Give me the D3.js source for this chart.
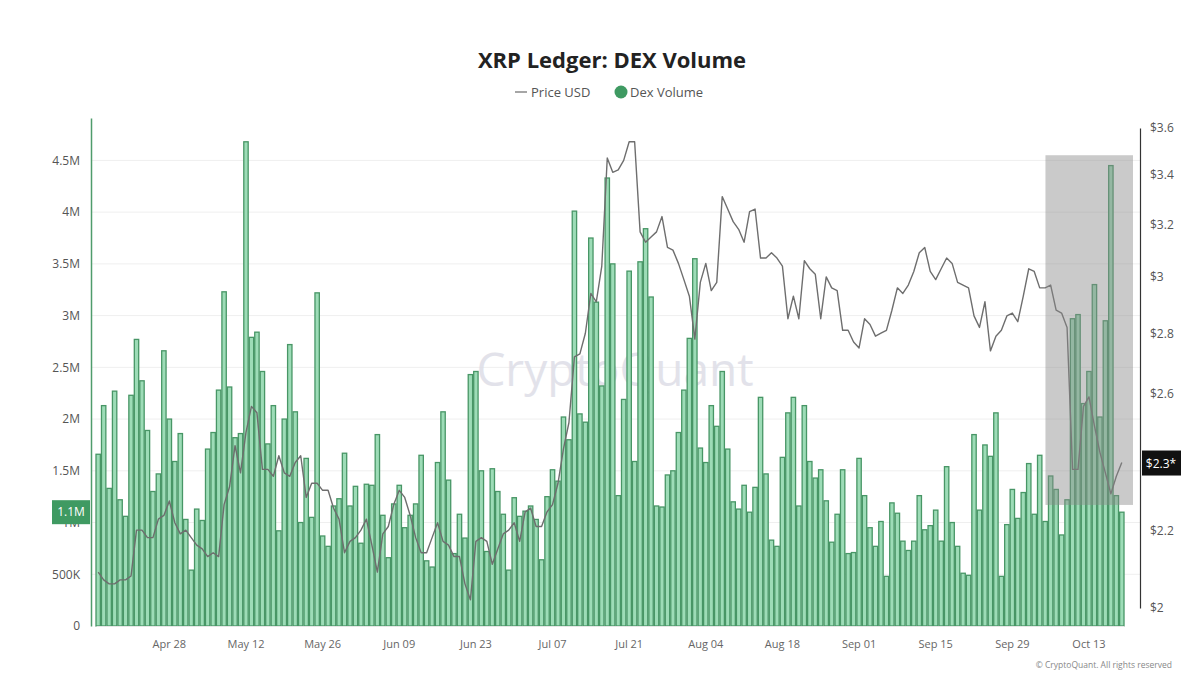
<!DOCTYPE html>
<html>
<head>
<meta charset="utf-8">
<script src="https://cdn.jsdelivr.net/npm/d3@7"></script>
<style>
  body { margin: 0; background: #fff; font-family: "Open Sans", "Noto Sans", sans-serif; }
</style>
</head>
<body>
<div id="graphic"></div>
<script>
// daily DEX volume (millions), Apr 15 -> Oct 19
const volume = [
  1.66, 2.13, 1.33, 2.27, 1.22, 1.06, 2.23, 2.77, 2.37, 1.89,
  1.30, 1.47, 2.66, 2.00, 1.59, 1.86, 1.03, 0.54, 1.13, 1.02,
  1.71, 1.87, 2.28, 3.23, 2.31, 1.82, 1.86, 4.68, 2.79, 2.84,
  2.46, 1.76, 2.13, 0.92, 2.00, 2.72, 2.07, 1.00, 1.62, 1.05,
  3.22, 0.87, 0.77, 1.16, 1.23, 1.67, 1.16, 1.35, 0.80, 1.37,
  1.36, 1.85, 1.07, 0.66, 1.18, 1.36, 0.95, 1.07, 1.18, 1.65,
  0.63, 0.57, 1.58, 2.07, 1.41, 0.70, 1.08, 0.85, 2.43, 2.46,
  1.50, 0.72, 1.52, 1.30, 1.08, 0.54, 1.24, 1.06, 1.11, 1.16,
  1.03, 0.64, 1.25, 1.51, 1.40, 2.02, 1.80, 4.01, 2.05, 1.97,
  3.75, 3.13, 2.32, 4.33, 3.50, 1.26, 2.19, 3.43, 1.59, 3.52,
  3.84, 3.18, 1.16, 1.15, 1.46, 1.50, 1.87, 2.28, 2.78, 3.55,
  1.72, 1.58, 2.13, 1.93, 2.46, 1.71, 1.20, 1.13, 1.36, 1.10,
  1.34, 2.21, 1.47, 0.83, 0.77, 1.63, 2.06, 2.21, 1.16, 2.13,
  1.59, 1.43, 1.51, 1.21, 0.81, 1.08, 1.51, 0.70, 0.71, 1.62,
  1.26, 0.95, 0.77, 1.01, 0.48, 1.19, 1.09, 0.82, 0.73, 0.82,
  1.26, 0.93, 0.97, 1.12, 0.82, 1.54, 1.00, 0.77, 0.51, 0.49,
  1.85, 1.12, 1.75, 1.64, 2.06, 0.48, 0.98, 1.32, 1.04, 1.29,
  1.57, 1.08, 1.65, 1.01, 1.45, 1.32, 0.88, 1.22, 2.97, 3.01,
  2.15, 2.46, 3.30, 2.02, 2.95, 4.45, 1.26, 1.10
];

// XRP price USD, same days
const price = [
  2.09, 2.07, 2.06, 2.06, 2.07, 2.07, 2.08, 2.20, 2.20, 2.18,
  2.18, 2.23, 2.24, 2.28, 2.22, 2.19, 2.20, 2.18, 2.16, 2.15,
  2.13, 2.14, 2.13, 2.27, 2.32, 2.44, 2.36, 2.48, 2.56, 2.54,
  2.37, 2.37, 2.35, 2.41, 2.36, 2.35, 2.39, 2.41, 2.29, 2.33,
  2.33, 2.31, 2.31, 2.26, 2.23, 2.14, 2.17, 2.18, 2.20, 2.23,
  2.16, 2.09, 2.19, 2.21, 2.27, 2.31, 2.29, 2.24, 2.18, 2.14,
  2.14, 2.18, 2.22, 2.17, 2.16, 2.13, 2.13, 2.06, 2.02, 2.17,
  2.18, 2.17, 2.11, 2.15, 2.19, 2.20, 2.22, 2.17, 2.25, 2.26,
  2.21, 2.21, 2.25, 2.27, 2.33, 2.43, 2.51, 2.72, 2.73, 2.80,
  2.94, 2.91, 3.04, 3.47, 3.41, 3.42, 3.46, 3.54, 3.54, 3.17,
  3.13, 3.15, 3.17, 3.23, 3.11, 3.10, 3.05, 2.99, 2.93, 2.78,
  2.98, 3.05, 2.95, 2.98, 3.31, 3.26, 3.21, 3.18, 3.13, 3.25,
  3.26, 3.07, 3.07, 3.09, 3.07, 3.04, 2.85, 2.93, 2.85, 3.06,
  3.03, 3.01, 2.85, 3.00, 2.96, 2.95, 2.81, 2.81, 2.77, 2.75,
  2.85, 2.83, 2.79, 2.80, 2.81, 2.88, 2.96, 2.94, 2.97, 3.02,
  3.09, 3.11, 3.02, 2.99, 3.03, 3.07, 3.05, 2.98, 2.97, 2.96,
  2.86, 2.82, 2.91, 2.74, 2.79, 2.81, 2.86, 2.87, 2.84, 2.93,
  3.03, 3.02, 2.96, 2.96, 2.97, 2.88, 2.87, 2.82, 2.37, 2.37,
  2.56, 2.59, 2.50, 2.42, 2.36, 2.30, 2.35, 2.39
];

const tickDays = ["2025-04-28", "2025-05-12", "2025-05-26", "2025-06-09", "2025-06-23",
  "2025-07-07", "2025-07-21", "2025-08-04", "2025-08-18", "2025-09-01",
  "2025-09-15", "2025-09-29", "2025-10-13"];
const volTicks = [0, 0.5, 1, 1.5, 2, 2.5, 3, 3.5, 4, 4.5];
const priceTicks = [2, 2.2, 2.6, 2.8, 3, 3.2, 3.4, 3.6];
const highlight = ["2025-10-06", "2025-10-19"]; // shaded window
const lastVolLabel = "1.1M";
const lastPriceLabel = "$2.3*";

const parseDay = d3.timeParse("%Y-%m-%d");
const dates = d3.timeDay.range(parseDay("2025-04-15"), parseDay("2025-10-20"));
const data = dates.map((d, i) => ({ date: d, vol: volume[i], price: price[i] }));

let margin = { top: 118, right: 60, bottom: 68, left: 91 },
    width = 1200 - margin.left - margin.right,
    height = 694 - margin.top - margin.bottom;

const root = d3.select("#graphic")
    .append("svg")
    .attr("width", 1200)
    .attr("height", 694);

// title + legend
root.append("text")
    .attr("x", 612).attr("y", 68)
    .attr("text-anchor", "middle")
    .style("font-size", "22px").style("font-weight", "700").style("fill", "#222")
    .text("XRP Ledger: DEX Volume");

const legend = root.append("g").attr("transform", "translate(0,92)");
legend.append("line").attr("x1", 515).attr("x2", 527).attr("y1", 0).attr("y2", 0)
    .attr("stroke", "#888").attr("stroke-width", 1.5);
legend.append("text").attr("x", 531).attr("y", 5)
    .style("font-size", "13px").style("fill", "#555").text("Price USD");
legend.append("circle").attr("cx", 621).attr("cy", 0).attr("r", 6.5).attr("fill", "#3f9a62");
legend.append("text").attr("x", 630).attr("y", 5)
    .style("font-size", "13px").style("fill", "#555").text("Dex Volume");

const svg = root.append("g")
    .attr("transform", `translate(${margin.left},${margin.top})`);

const x = d3.scaleBand()
    .domain(dates)
    .range([5, 1033])
    .paddingInner(0.2);

const y = d3.scaleLinear()
    .domain([0, 4.91])
    .range([height, 0]);

const y2 = d3.scaleLog()
    .domain([2, 3.6])
    .range([height - 18, 10]);

// gridlines
svg.append("g")
    .selectAll("line")
    .data(volTicks.slice(1))
    .join("line")
    .attr("x1", 0).attr("x2", width)
    .attr("y1", d => y(d)).attr("y2", d => y(d))
    .attr("stroke", "#efefef");

// watermark
svg.append("text")
    .attr("x", 524).attr("y", 268)
    .attr("text-anchor", "middle")
    .style("font-size", "46px").style("font-weight", "500")
    .style("fill", "#dcdce6").style("opacity", 0.8)
    .text("CryptoQuant");

// bars
svg.selectAll("rect.bar")
    .data(data)
    .join("rect")
    .attr("class", "bar")
    .attr("x", d => x(d.date))
    .attr("y", d => y(d.vol))
    .attr("width", x.bandwidth())
    .attr("height", d => height - y(d.vol))
    .attr("fill", "#9ddcb7")
    .attr("stroke", "#489666")
    .attr("stroke-width", 1.3);

// price line
const line = d3.line()
    .x(d => x(d.date) + x.bandwidth() / 2)
    .y(d => y2(d.price));
svg.append("path")
    .datum(data)
    .attr("d", line)
    .attr("fill", "none")
    .attr("stroke", "#6e6e6e")
    .attr("stroke-width", 1.4)
    .attr("stroke-linejoin", "round");

// shaded highlight window
const hx0 = x(parseDay(highlight[0])) - 3;
const hx1 = x(parseDay(highlight[1])) + x.bandwidth() + 9;
svg.append("rect")
    .attr("x", hx0)
    .attr("y", y(4.55))
    .attr("width", hx1 - hx0)
    .attr("height", y(1.17) - y(4.55))
    .attr("fill", "#8a8a8a")
    .attr("opacity", 0.45);

// X axis
svg.append("g")
    .attr("transform", `translate(0, ${height})`)
    .call(d3.axisBottom(x)
        .tickValues(tickDays.map(parseDay))
        .tickSize(0)
        .tickPadding(14)
        .tickFormat(d3.timeFormat("%b %d")))
    .call(g => g.select(".domain").attr("stroke", "#e6e6e6"))
    .selectAll("text")
    .style("font-size", "11px").style("fill", "#666").style("font-family", "Open Sans");

// left axis
svg.append("g")
    .call(d3.axisLeft(y).tickValues(volTicks).tickSize(0).tickPadding(11)
        .tickFormat(d => d === 0 ? "0" : d < 1 ? (d * 1000) + "K" : d + "M"))
    .call(g => g.select(".domain").attr("stroke", "#4f9c6c").attr("stroke-width", 1.5))
    .selectAll("text")
    .style("font-size", "12px").style("fill", "#555").style("font-family", "Open Sans");

// right axis
svg.append("g")
    .attr("transform", `translate(${width},0)`)
    .call(d3.axisRight(y2).tickValues(priceTicks).tickSize(0).tickPadding(10)
        .tickFormat(d => "$" + d))
    .call(g => g.select(".domain").attr("stroke", "#333").attr("stroke-width", 1.2))
    .selectAll("text")
    .style("font-size", "12px").style("fill", "#555").style("font-family", "Open Sans");

// last value badges
const lastVol = volume[volume.length - 1];
svg.append("rect")
    .attr("x", -39).attr("y", y(lastVol) - 12)
    .attr("width", 38).attr("height", 24)
    .attr("fill", "#3f9a62");
svg.append("text")
    .attr("x", -20).attr("y", y(lastVol) + 4)
    .attr("text-anchor", "middle")
    .style("font-size", "12px").style("fill", "#fff")
    .text(lastVolLabel);

const lastPrice = price[price.length - 1];
svg.append("rect")
    .attr("x", width + 2).attr("y", y2(lastPrice) - 12)
    .attr("width", 39).attr("height", 25)
    .attr("fill", "#111");
svg.append("text")
    .attr("x", width + 21).attr("y", y2(lastPrice) + 5)
    .attr("text-anchor", "middle")
    .style("font-size", "12px").style("fill", "#fff")
    .text(lastPriceLabel);

root.append("text")
    .attr("x", 1172).attr("y", 668)
    .attr("text-anchor", "end")
    .style("font-size", "8.5px").style("fill", "#888")
    .text("© CryptoQuant. All rights reserved");
</script>
</body>
</html>
